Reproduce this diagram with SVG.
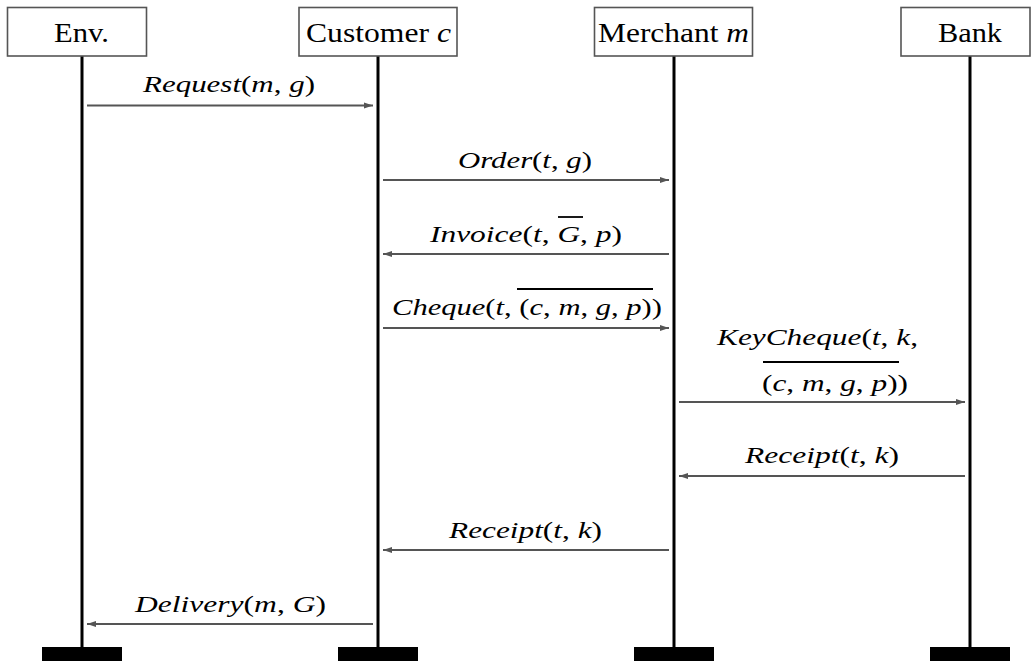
<svg xmlns="http://www.w3.org/2000/svg" width="1031" height="661" viewBox="0 0 1031 661">
<style>
.box{fill:#fff;stroke:#555;stroke-width:1.6}
.life{stroke:#000;stroke-width:3}
.bar{fill:#000}
.msg{stroke:#555;stroke-width:2;fill:none;marker-end:url(#ah)}
.lbl{font-family:"Liberation Serif","Times New Roman",serif;font-size:28px;fill:#000}
.m{font-family:"Liberation Serif","Times New Roman",serif;font-size:24px;font-style:italic;fill:#000}
.u{font-style:normal}
.ov{stroke:#000;stroke-width:1.8}
</style>
<defs>
<marker id="ah" markerUnits="userSpaceOnUse" markerWidth="10" markerHeight="7" refX="9" refY="3.5" orient="auto">
<path d="M0,0.5 L9,3.5 L0,6.5 Z" fill="#555"/>
</marker>
</defs>
<g id="env">
<line class="life" x1="82" y1="56" x2="82" y2="648"/>
<rect class="box" x="7.5" y="7.5" width="139" height="48.5"/>
<text class="lbl" x="54" y="42" textLength="55" lengthAdjust="spacingAndGlyphs">Env.</text>
<rect class="bar" x="42" y="647" width="80" height="14"/>
</g>
<g id="customer">
<line class="life" x1="378" y1="56" x2="378" y2="648"/>
<rect class="box" x="299" y="7.5" width="158" height="48.5"/>
<text class="lbl" x="306" y="42" textLength="145" lengthAdjust="spacingAndGlyphs">Customer <tspan font-style="italic">c</tspan></text>
<rect class="bar" x="338" y="647" width="80" height="14"/>
</g>
<g id="merchant">
<line class="life" x1="674" y1="56" x2="674" y2="648"/>
<rect class="box" x="594.5" y="7.5" width="158" height="48.5"/>
<text class="lbl" x="598" y="42" textLength="151" lengthAdjust="spacingAndGlyphs">Merchant <tspan font-style="italic">m</tspan></text>
<rect class="bar" x="634" y="647" width="80" height="14"/>
</g>
<g id="bank">
<line class="life" x1="970" y1="56" x2="970" y2="648"/>
<rect class="box" x="901" y="7.5" width="129" height="48.5"/>
<text class="lbl" x="938" y="42" textLength="64" lengthAdjust="spacingAndGlyphs">Bank</text>
<rect class="bar" x="930" y="647" width="80" height="14"/>
</g>
<g id="connectors">
<line class="msg" x1="87" y1="105.5" x2="373" y2="105.5"/>
<text class="m" x="143" y="92" textLength="172" lengthAdjust="spacingAndGlyphs">Request<tspan class="u">(</tspan>m<tspan class="u">, </tspan>g<tspan class="u">)</tspan></text>

<line class="msg" x1="383" y1="180" x2="669" y2="180"/>
<text class="m" x="458" y="168" textLength="134" lengthAdjust="spacingAndGlyphs">Order<tspan class="u">(</tspan>t<tspan class="u">, </tspan>g<tspan class="u">)</tspan></text>

<line class="msg" x1="669" y1="254" x2="383" y2="254"/>
<text class="m" x="430" y="242" textLength="192" lengthAdjust="spacingAndGlyphs">Invoice<tspan class="u">(</tspan>t<tspan class="u">, </tspan>G<tspan class="u">, </tspan>p<tspan class="u">)</tspan></text>
<line class="ov" x1="558" y1="217" x2="583" y2="217"/>

<line class="msg" x1="383" y1="328" x2="669" y2="328"/>
<text class="m" x="392" y="315" textLength="270" lengthAdjust="spacingAndGlyphs">Cheque<tspan class="u">(</tspan>t<tspan class="u">, (</tspan>c<tspan class="u">, </tspan>m<tspan class="u">, </tspan>g<tspan class="u">, </tspan>p<tspan class="u">))</tspan></text>
<line class="ov" x1="517" y1="289" x2="653" y2="289"/>

<line class="msg" x1="679" y1="402" x2="965" y2="402"/>
<text class="m" x="717" y="345" textLength="201" lengthAdjust="spacingAndGlyphs">KeyCheque<tspan class="u">(</tspan>t<tspan class="u">, </tspan>k<tspan class="u">,</tspan></text>
<text class="m" x="762" y="391" textLength="146" lengthAdjust="spacingAndGlyphs"><tspan class="u">(</tspan>c<tspan class="u">, </tspan>m<tspan class="u">, </tspan>g<tspan class="u">, </tspan>p<tspan class="u">))</tspan></text>
<line class="ov" x1="763" y1="362" x2="899" y2="362"/>

<line class="msg" x1="965" y1="476" x2="679" y2="476"/>
<text class="m" x="745" y="463" textLength="154" lengthAdjust="spacingAndGlyphs">Receipt<tspan class="u">(</tspan>t<tspan class="u">, </tspan>k<tspan class="u">)</tspan></text>

<line class="msg" x1="669" y1="550" x2="383" y2="550"/>
<text class="m" x="449" y="538" textLength="153" lengthAdjust="spacingAndGlyphs">Receipt<tspan class="u">(</tspan>t<tspan class="u">, </tspan>k<tspan class="u">)</tspan></text>

<line class="msg" x1="373" y1="624" x2="87" y2="624"/>
<text class="m" x="135" y="612" textLength="191" lengthAdjust="spacingAndGlyphs">Delivery<tspan class="u">(</tspan>m<tspan class="u">, </tspan>G<tspan class="u">)</tspan></text>
</g>
</svg>
